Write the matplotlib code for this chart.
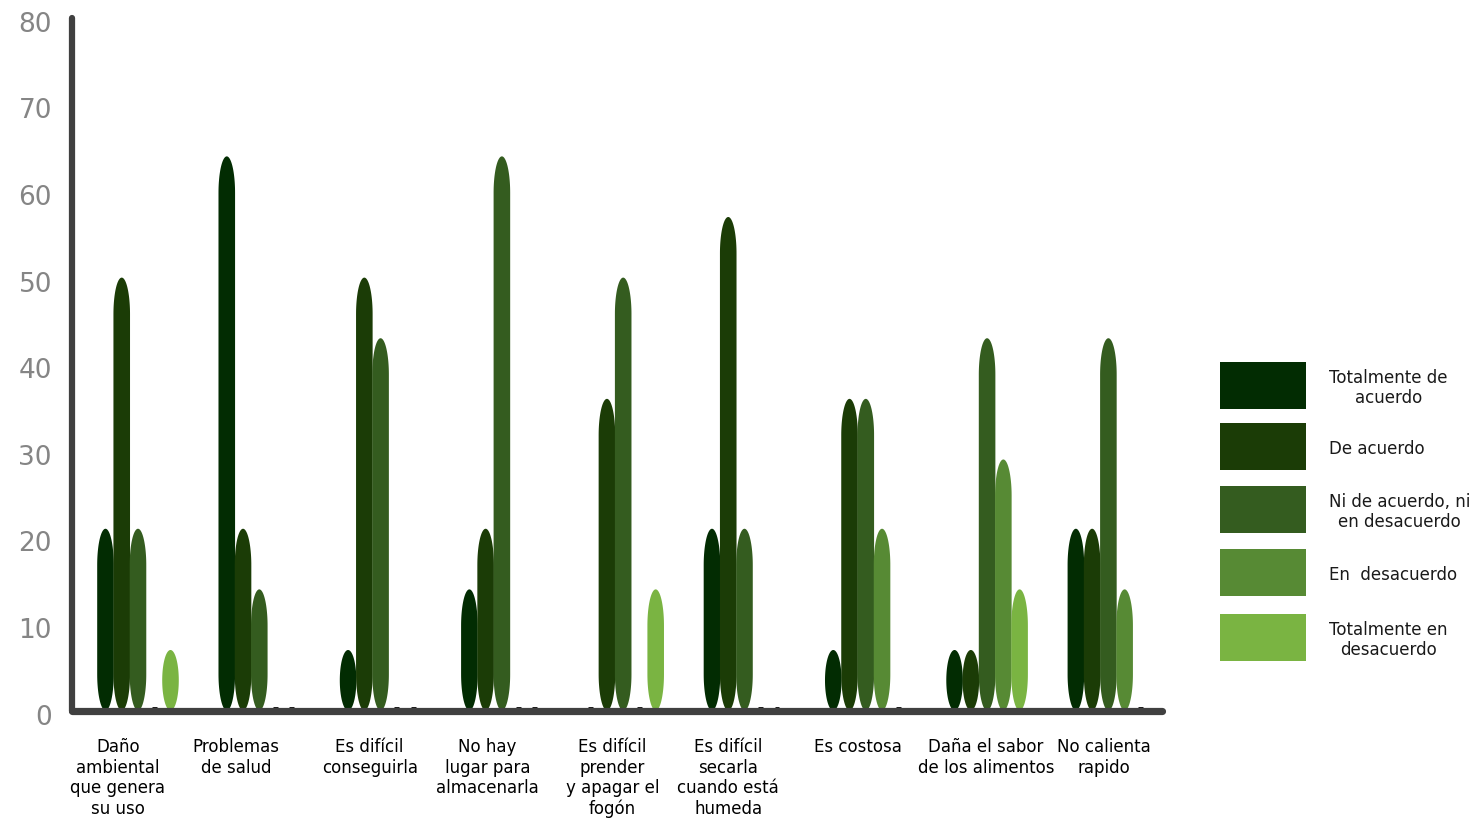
import numpy as np
import matplotlib
matplotlib.use("Agg")
import matplotlib.pyplot as plt
from matplotlib.patches import Polygon, Rectangle
from matplotlib.transforms import ScaledTranslation

# ---------------- data ----------------
categories = [
    "Daño\nambiental\nque genera\nsu uso",
    "Problemas\nde salud",
    "Es difícil\nconseguirla",
    "No hay\nlugar para\nalmacenarla",
    "Es difícil\nprender\ny apagar el\nfogón",
    "Es difícil\nsecarla\ncuando está\nhumeda",
    "Es costosa",
    "Daña el sabor\nde los alimentos",
    "No calienta\nrapido",
]
series_names = [
    "Totalmente de\nacuerdo",
    "De acuerdo",
    "Ni de acuerdo, ni\nen desacuerdo",
    "En  desacuerdo",
    "Totalmente en\ndesacuerdo",
]
totalmente_de_acuerdo = [21, 64, 7, 14, 0, 21, 7, 7, 21]
de_acuerdo = [50, 21, 50, 21, 36, 57, 36, 7, 21]
ni_ni = [21, 14, 43, 64, 50, 21, 36, 43, 43]
en_desacuerdo = [0, 0, 0, 0, 0, 0, 21, 29, 14]
totalmente_en_desacuerdo = [7, 0, 0, 0, 14, 0, 0, 14, 0]
series_values = [totalmente_de_acuerdo, de_acuerdo, ni_ni, en_desacuerdo,
                 totalmente_en_desacuerdo]
colors = ["#022c02", "#1b3c06", "#345c1f", "#578a34", "#7ab442"]
y_ticks = [0, 10, 20, 30, 40, 50, 60, 70, 80]

# ---------------- layout ----------------
label_shift = [-0.165, -0.19, -0.09, -0.12, -0.09, -0.135, -0.065, -0.01, -0.04]
bar_w = 0.134
cap_ry = 4.2

fig = plt.figure(figsize=(14.78, 8.18), dpi=100)
ax = fig.add_axes([72 / 1478, 107.4 / 818, (1162 - 72) / 1478, (710.6 - 17.8) / 818])
ax.set_xlim(-0.544, 8.442)
ax.set_ylim(0, 80)


def pill(xc, h, w, ry):
    ry = min(ry, h / 2.0)
    t1 = np.linspace(0, np.pi, 60)
    t2 = np.linspace(np.pi, 2 * np.pi, 60)
    top = np.column_stack([xc + w / 2 * np.cos(t1), h - ry + ry * np.sin(t1)])
    bot = np.column_stack([xc + w / 2 * np.cos(t2), ry + ry * np.sin(t2)])
    return np.vstack([top, bot])


x = np.arange(len(categories))
for s, (vals, col) in enumerate(zip(series_values, colors)):
    for i, v in enumerate(vals):
        xc = x[i] + (s - 2) * bar_w
        if v > 0:
            ax.add_patch(Polygon(pill(xc, v, bar_w * 1.02, cap_ry), closed=True,
                                 facecolor=col, edgecolor="none", zorder=2))
        else:
            ax.plot([xc - 0.02, xc + 0.02], [0.25, 0.25], color="black",
                    lw=2.0, solid_capstyle="butt", zorder=1)

for side in ["top", "right"]:
    ax.spines[side].set_visible(False)
for side in ["left", "bottom"]:
    ax.spines[side].set_color("#404040")
    ax.spines[side].set_capstyle("round")
ax.spines["left"].set_linewidth(4.5)
ax.spines["bottom"].set_linewidth(5.2)
ax.spines["bottom"].set_zorder(3)

ax.set_yticks(y_ticks)
ax.set_yticklabels([])
ax.tick_params(axis="y", length=0)
ax.set_xticks([])
ytrans = ax.get_yaxis_transform() + ScaledTranslation(-0.20, -0.07, fig.dpi_scale_trans)
for t in y_ticks:
    ax.text(0, t, str(t), transform=ytrans, ha="right", va="center",
            fontsize=19, color="#858585", clip_on=False)

for i, lab in enumerate(categories):
    ax.text(x[i] + label_shift[i], -3.2, lab, ha="center", va="top",
            fontsize=12, linespacing=1.18, color="black",
            transform=ax.transData, clip_on=False)

# ---------------- legend ----------------
box_tops = [362, 423, 486, 549, 614]
for name, col, top in zip(series_names, colors, box_tops):
    fig.patches.append(Rectangle((1220 / 1478, 1 - (top + 47) / 818), 86 / 1478,
                                 47 / 818, transform=fig.transFigure,
                                 facecolor=col, edgecolor="none"))
    fig.text(1329 / 1478, 1 - (top + 26) / 818, name, ha="left", va="center",
             multialignment="center", fontsize=12, linespacing=1.15,
             color="#1a1a1a")

fig.savefig("out.png", dpi=100)
